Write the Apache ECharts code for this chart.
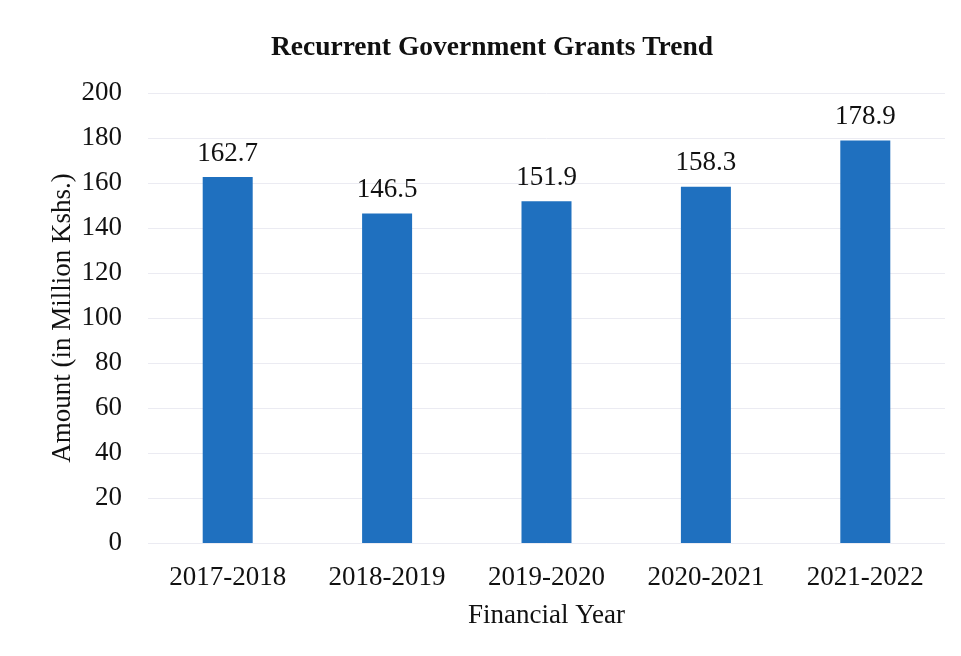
<!DOCTYPE html>
<html><head><meta charset="utf-8">
<script src="https://cdn.jsdelivr.net/npm/echarts@6/dist/echarts.min.js"></script>
<style>html,body{margin:0;padding:0;background:#fff}#c{width:961px;height:656px}</style>
</head><body><div id="c"></div>
<script>
var categories = ['2017-2018','2018-2019','2019-2020','2020-2021','2021-2022'];
var amounts = [162.7, 146.5, 151.9, 158.3, 178.9];
var yTicks = {min: 0, max: 200, interval: 20};
var F = '"Liberation Serif","Times New Roman",serif';
var chart = echarts.init(document.getElementById('c'));
chart.setOption({
  backgroundColor: '#fff',
  animation: false,
  title: {text: 'Recurrent Government Grants Trend', left: 487, top: 29, textAlign: 'center',
    textStyle: {fontFamily: F, fontWeight: 'bold', fontSize: 27.5, color: '#111'}},
  grid: {left: 148, right: 16, top: 93, bottom: 113},
  xAxis: {type: 'category', data: categories,
    axisLine: {show: false}, axisTick: {show: false},
    axisLabel: {fontFamily: F, fontSize: 27, color: '#111', margin: 21},
    name: 'Financial Year', nameLocation: 'middle', nameGap: 59,
    nameTextStyle: {fontFamily: F, fontSize: 27, color: '#111'}},
  yAxis: {type: 'value', min: yTicks.min, max: yTicks.max, interval: yTicks.interval,
    axisLine: {show: false}, axisTick: {show: false},
    splitLine: {lineStyle: {color: '#ebebf2', width: 1}},
    axisLabel: {fontFamily: F, fontSize: 27, color: '#111', margin: 26},
    name: 'Amount (in Million Kshs.)', nameLocation: 'middle', nameGap: 72, nameMoveOverlap: false,
    nameTextStyle: {fontFamily: F, fontSize: 27, color: '#111'}},
  series: [{type: 'bar', data: amounts, barWidth: 50,
    itemStyle: {color: '#1f70bf'},
    label: {show: true, position: 'top', distance: 10, fontFamily: F, fontSize: 27, color: '#111'}}]
});
</script></body></html>
